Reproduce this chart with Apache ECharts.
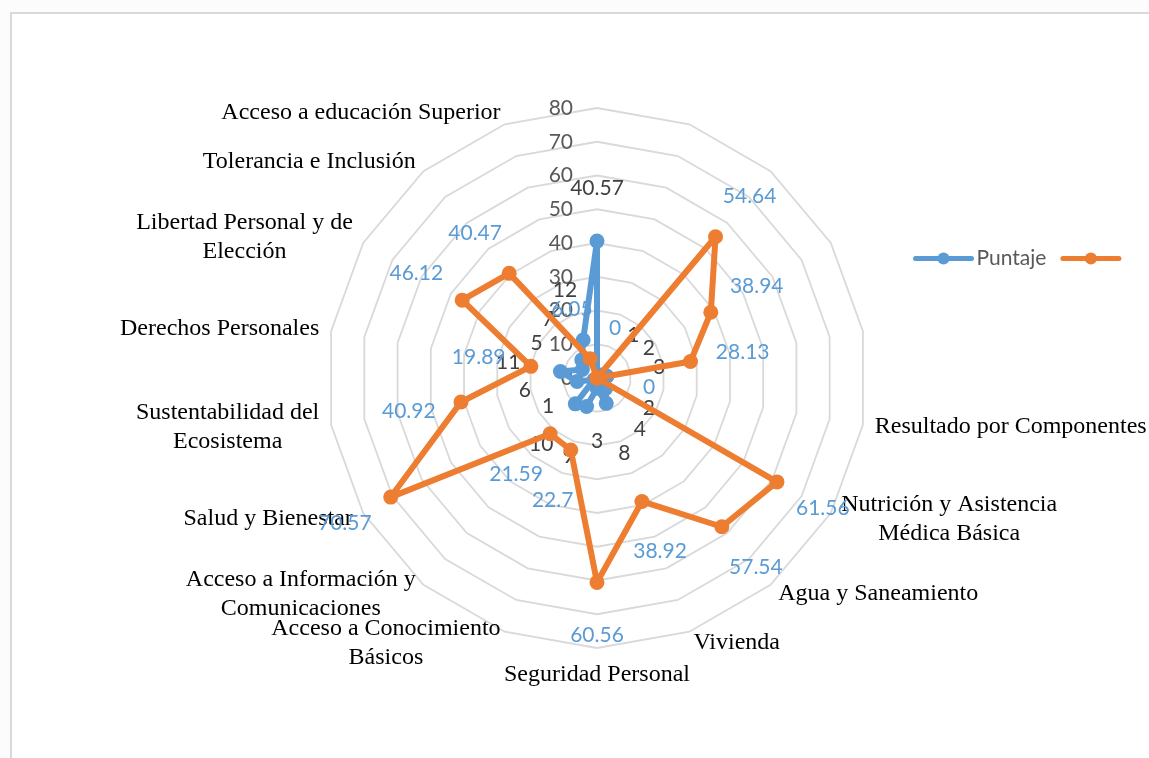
<!DOCTYPE html>
<html>
<head>
<meta charset="utf-8">
<script src="https://cdn.jsdelivr.net/npm/echarts@6/dist/echarts.min.js"></script>
<style>
  html, body { margin: 0; padding: 0; background: #fcfcfc; overflow: hidden; }
  #frame { position: absolute; left: 10px; top: 12px; width: 1200px; height: 800px; background: #fff; border: 2px solid #d9d9d9; }
  #chart { position: absolute; left: 0; top: 0; width: 1149px; height: 758px; }
</style>
</head>
<body>
<div id="frame"></div>
<div id="chart"></div>
<script>
// categories clockwise from the top spoke (first five spokes have no name)
const categories = [
  '', '', '', '', '',
  'Resultado por Componentes',
  'Nutrición y Asistencia\nMédica Básica',
  'Agua y Saneamiento',
  'Vivienda',
  'Seguridad Personal',
  'Acceso a Conocimiento\nBásicos',
  'Acceso a Información y\nComunicaciones',
  'Salud y Bienestar',
  'Sustentabilidad del\nEcosistema',
  'Derechos Personales',
  'Libertad Personal y de\nElección',
  'Tolerancia e Inclusión',
  'Acceso a educación Superior',
]
const puntaje = [40.57, 0, 1, 2, 3, 0, 2, 4, 8, 3, 9, 10, 1, 6, 11, 5, 7, 12]
const serie2 = [0, 0, 54.64, 38.94, 28.13, 0, 61.56, 57.54, 38.92, 60.56, 22.7, 21.59, 70.57, 40.92, 19.89, 46.12, 40.47, 6.05]
const radiusTicks = [0, 10, 20, 30, 40, 50, 60, 70, 80]
// points whose data label is not shown in the original
const puntajeNoLabel = [1, 5]
const serie2NoLabel = [0]

const CX = 597, CY = 378, R = 270
const LABEL_GAP = 53
const n = categories.length
const step = 360 / n
const rMax = radiusTicks[radiusTicks.length - 1]

// ECharts radar runs counter-clockwise, so feed it the names reversed after the first
const indicators = [categories[0]].concat(categories.slice(1).reverse()).map((name) => ({
  name: name,
  min: 0,
  max: rMax,
}))

function buildData(values, noLabel) {
  const data = values.map((v, i) => {
    const a = (i * step) * Math.PI / 180
    return {
      value: [v, i],
      label: {
        show: noLabel.indexOf(i) < 0,
        offset: [LABEL_GAP * Math.sin(a), -LABEL_GAP * Math.cos(a)],
      },
    }
  })
  // close the loop back to the first spoke
  data.push({ value: [values[0], 0], symbol: 'none', label: { show: false } })
  return data
}

const hidden = {
  axisLine: { show: false },
  axisTick: { show: false },
  axisLabel: { show: false },
  splitLine: { show: false },
}

const chart = echarts.init(document.getElementById('chart'))
const option = {
  animation: false,
  backgroundColor: 'transparent',
  legend: {
    left: 908,
    top: 243,
    itemWidth: 56,
    itemHeight: 15,
    itemGap: 14,
    textStyle: { fontFamily: 'Lato', fontSize: 21, color: '#595959' },
    lineStyle: { width: 5 },
    data: ['Puntaje', ' '],
  },
  radar: {
    center: [CX, CY],
    radius: R,
    startAngle: 90,
    splitNumber: 8,
    shape: 'polygon',
    nameGap: 12,
    indicator: indicators,
    axisName: {
      fontFamily: 'Liberation Serif',
      fontSize: 24,
      color: '#000',
      formatter: (name) => name ? name.split('\n').map((s) => '{c|' + s + '}').join('\n') : '',
      rich: { c: { align: 'center', fontFamily: 'Liberation Serif', fontSize: 24, color: '#000', lineHeight: 29 } },
    },
    axisLine: { show: false },
    axisTick: { show: false },
    axisLabel: { show: false },
    splitArea: { show: false },
    splitLine: { lineStyle: { color: '#d9d9d9', width: 1.8 } },
  },
  // polar 0 carries the series, polar 1 only the vertical value labels
  polar: [
    { center: [CX, CY], radius: R },
    { center: [CX, CY], radius: R },
  ],
  angleAxis: [
    // band centres: start half a band before the top so the first category sits at 12 o'clock
    Object.assign({ polarIndex: 0, type: 'category', data: categories, boundaryGap: true, startAngle: 90 + step / 2, clockwise: true }, hidden),
    Object.assign({ polarIndex: 1, type: 'value', min: 0, max: 360, startAngle: 90 }, hidden),
  ],
  radiusAxis: [
    Object.assign({ polarIndex: 0, type: 'value', min: radiusTicks[0], max: rMax, interval: 10 }, hidden),
    {
      polarIndex: 1,
      type: 'value',
      min: radiusTicks[0],
      max: rMax,
      interval: 10,
      axisLine: { show: false },
      axisTick: { show: false },
      splitLine: { show: false },
      axisLabel: { fontFamily: 'Lato', fontSize: 21, color: '#595959', margin: 24 },
      z: 1,
    },
  ],
  series: [
    {
      name: 'Puntaje',
      type: 'line',
      coordinateSystem: 'polar',
      polarIndex: 0,
      data: buildData(puntaje, puntajeNoLabel),
      symbol: 'circle',
      symbolSize: 15,
      color: '#5b9bd5',
      lineStyle: { width: 6, color: '#5b9bd5', cap: 'round', join: 'round' },
      itemStyle: { color: '#5b9bd5' },
      label: { show: true, position: 'inside', fontFamily: 'Lato', fontSize: 21, color: '#404040', formatter: (p) => String(p.value[0]) },
      z: 3,
    },
    {
      name: ' ',
      type: 'line',
      coordinateSystem: 'polar',
      polarIndex: 0,
      data: buildData(serie2, serie2NoLabel),
      symbol: 'circle',
      symbolSize: 15,
      color: '#ed7d31',
      lineStyle: { width: 6, color: '#ed7d31', cap: 'round', join: 'round' },
      itemStyle: { color: '#ed7d31' },
      label: { show: true, position: 'inside', fontFamily: 'Lato', fontSize: 21, color: '#5b9bd5', formatter: (p) => String(p.value[0]) },
      z: 4,
    },
  ],
}
chart.setOption(option)
window.addEventListener('resize', () => chart.resize())
</script>
</body>
</html>
